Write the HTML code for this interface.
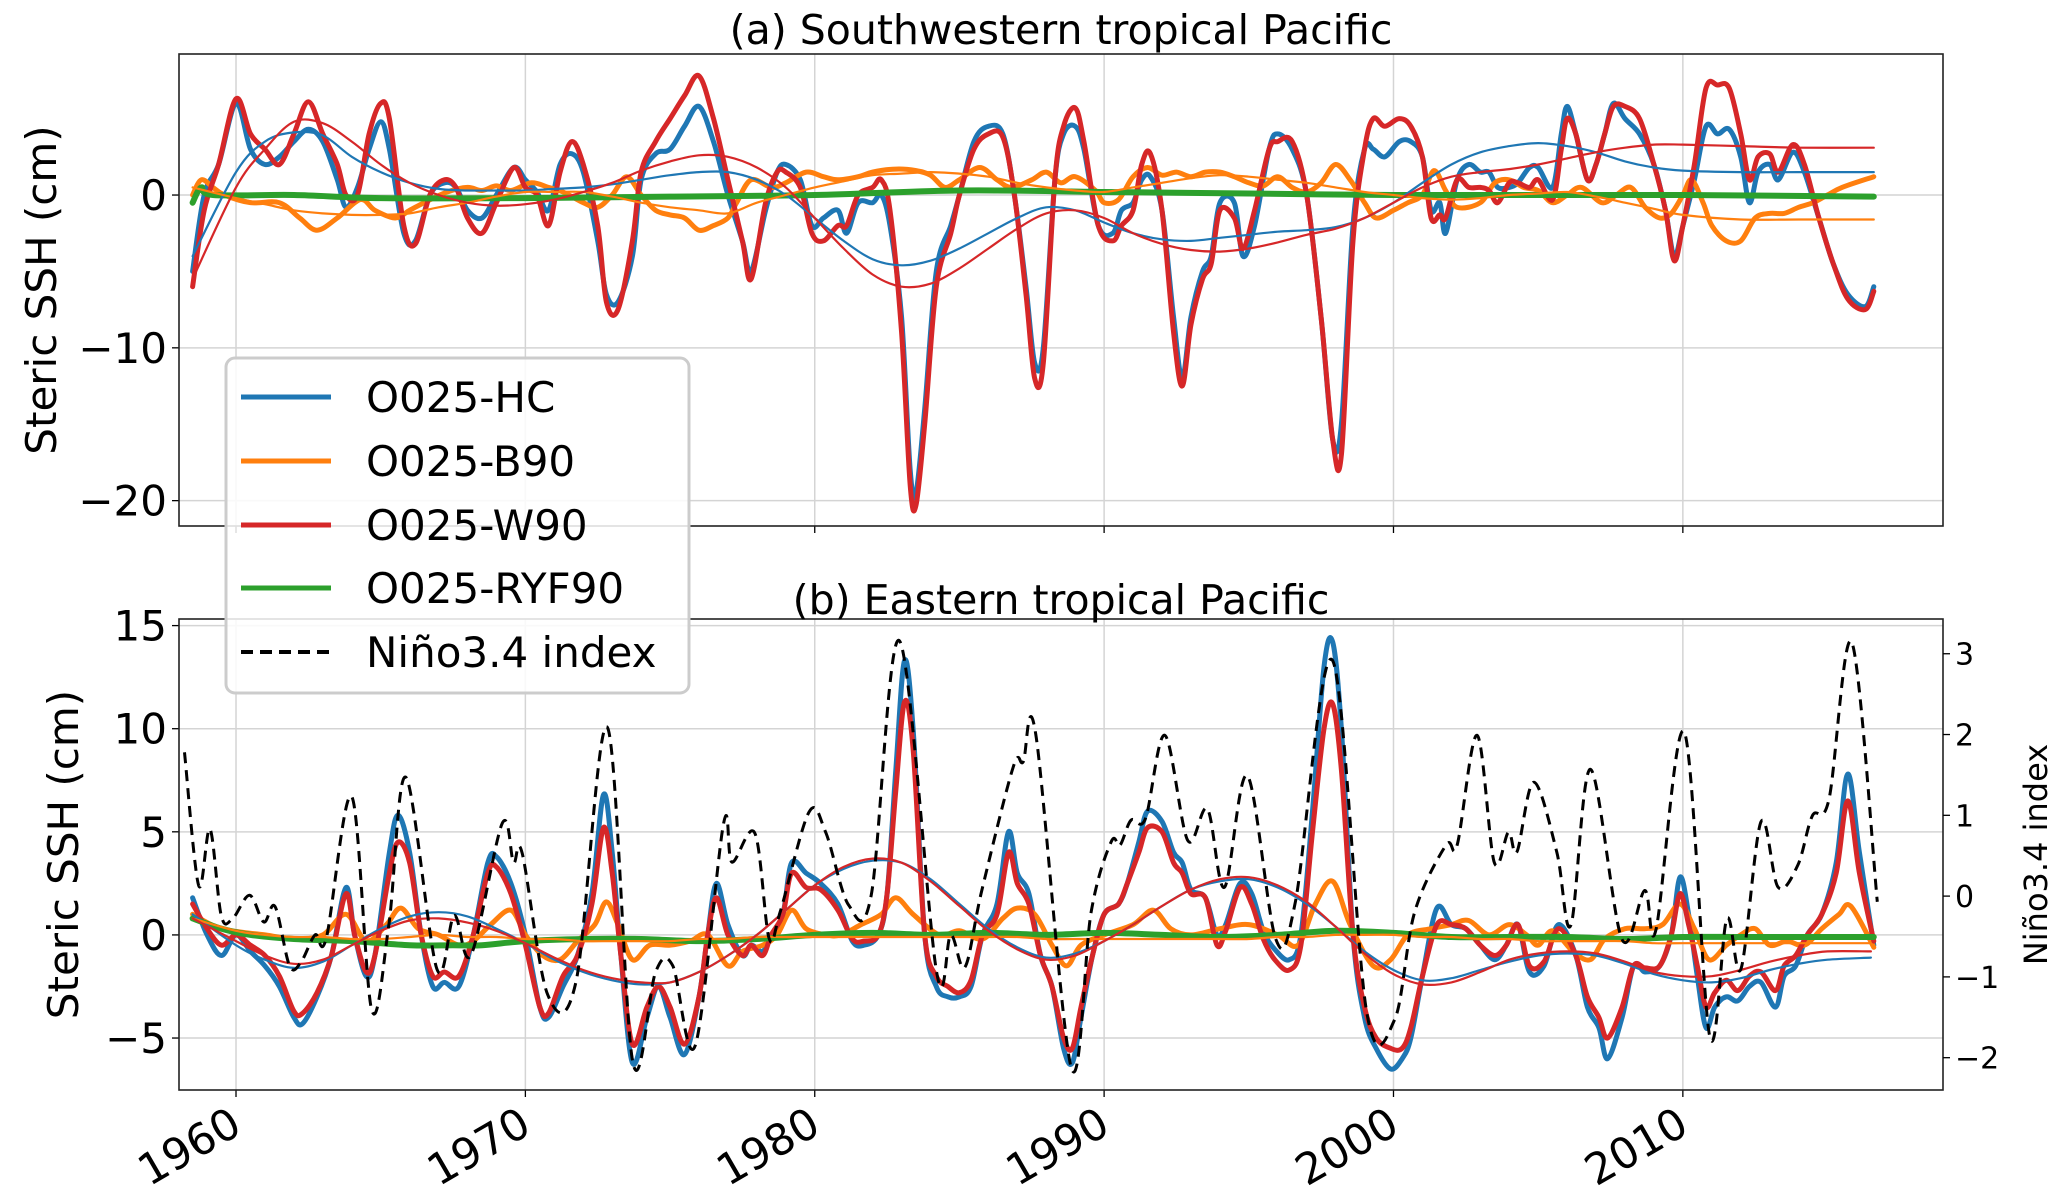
<!DOCTYPE html>
<html><head><meta charset="utf-8">
<style>
html,body{margin:0;padding:0;background:#fff;}
svg{display:block;font-family:"DejaVu Sans","Liberation Sans",sans-serif;}
</style></head>
<body>
<svg id="chart" width="2067" height="1193" viewBox="0 0 2067 1193" xmlns="http://www.w3.org/2000/svg">
<g id="panelA"></g>
<g id="panelB"></g>
<g id="legend"></g>
</svg>
<script>
// ---- shared x-axis ----
const xTicks = [1960, 1970, 1980, 1990, 2000, 2010];
const xTickLabels = ["1960", "1970", "1980", "1990", "2000", "2010"];

// ---- panel (a) data ----
const yTicksA = [-20, -10, 0];
const yTickLabelsA = ["\u221220", "\u221210", "0"];
const tA = [1958.5,1958.9,1959.4,1960,1960.5,1961,1961.5,1962,1962.5,1963,1963.5,1963.8,1964.2,1964.6,1965,1965.3,1965.8,1966.2,1966.7,1967.2,1967.6,1968,1968.5,1969,1969.6,1970,1970.4,1970.8,1971.2,1971.6,1972,1972.5,1972.8,1973.2,1973.7,1974,1974.5,1975,1975.5,1976,1976.5,1977,1977.5,1977.8,1978.3,1978.7,1979,1979.5,1979.9,1980.3,1980.8,1981.1,1981.5,1982,1982.3,1982.6,1983,1983.3,1983.5,1983.8,1984.2,1984.7,1985,1985.5,1986,1986.5,1986.9,1987.3,1987.6,1987.9,1988.3,1988.6,1989,1989.3,1989.8,1990.3,1990.6,1991,1991.3,1991.6,1992,1992.4,1992.7,1993,1993.4,1993.7,1994,1994.5,1994.8,1995.2,1995.7,1996,1996.5,1997,1997.5,1997.9,1998.2,1998.6,1999,1999.3,1999.7,2000.2,2000.6,2001,2001.3,2001.6,2001.8,2002.2,2002.6,2003,2003.3,2003.6,2004,2004.3,2004.7,2005,2005.5,2005.8,2006,2006.3,2006.7,2007,2007.3,2007.6,2008,2008.5,2009,2009.4,2009.7,2010,2010.4,2010.8,2011.2,2011.6,2012,2012.3,2012.6,2013,2013.3,2013.8,2014.2,2014.7,2015.2,2015.7,2016.3,2016.6];
const hcA = [-5,0,2,6,3,2,2.5,3.5,4.3,3.5,1,-0.8,0.5,3,4.8,3,-2.5,-3,0,0.8,0.5,-1,-1.5,0,1.8,1,0.2,-1,2,2.7,1.5,-3,-6.5,-7,-4,1,2.7,3,4.5,5.8,3.5,0,-3,-5,-1,1.5,2,1,-2,-1.5,-1,-2.5,-0.5,-0.5,0,-2,-8,-18,-19.5,-14,-5,-2,0,3.5,4.5,4,0,-6,-11,-10,1,4,4.5,3,-2,-2.5,-1,-0.5,1,1.2,-1,-8,-12,-8,-5,-4,-0.5,-0.5,-4,-2,3,4,3,0,-8,-16,-15,-2,3,3,2.5,3.5,3.5,2.5,-1,-0.5,-2.5,1,2,1.5,1.5,0.5,0.5,0.8,1.8,1.8,0.5,4,5.8,4,1,2,4,6,5,4,2,-1,-4,-2,1,4.5,4,4.3,2.5,-0.5,1.5,2,1,2.8,1.5,-1.5,-4.5,-6.5,-7.3,-6];
const w90A = [-6,-1,2,6.3,4,3,2,4,6.1,4,2,0,0,4,6,5,-2,-3.2,0,1,0.5,-1.5,-2.5,-0.5,1.8,0.5,0,-2,1.5,3.5,2,-2,-7,-7.5,-3,1.5,3.5,5,6.5,7.8,5,1,-3,-5.5,-0.5,1.5,1.5,0.5,-2.5,-3,-2,-2,0,0.5,1,-1,-9,-19,-20.3,-15,-6,-2.5,0,3,4,3.8,0,-6.5,-12,-11,1,4.5,5.7,3.5,-2,-3,-2,-1,2,2.7,-1,-9,-12.5,-8.5,-5.5,-4.5,-1,-1.5,-3.5,-1,3,3.5,3.5,0,-8,-16,-17,-3,3,5,4.5,5,4.5,2.5,-1.5,-1.3,-1.5,1,0.5,0.5,0.3,-0.5,0.8,0.8,0.5,1,-0.3,3,5,4,1,2,4,5.8,5.8,5,2,-1,-4.3,-2,2,7,7.2,7,4,1,2.5,2.7,1.5,3.3,2,-1.5,-4.5,-6.8,-7.5,-6.3];
const tB90A = [1958.5,1958.8,1959.2,1959.6,1960.5,1961.5,1962.2,1962.8,1963.5,1964.3,1964.8,1965.5,1966,1966.5,1967.3,1968,1968.5,1969,1969.5,1970.2,1970.8,1971.3,1972,1972.5,1973,1973.5,1974,1974.5,1975,1975.5,1976,1976.5,1977,1977.3,1977.8,1978.5,1979,1979.7,1980.3,1980.8,1981.5,1982,1982.8,1983.5,1984,1984.5,1985,1985.7,1986.3,1986.8,1987.5,1988,1988.5,1989,1989.7,1990,1990.5,1991,1991.5,1992,1992.5,1993,1993.5,1994,1994.5,1995,1995.5,1996,1996.5,1997,1997.5,1998,1998.5,1999,1999.4,2000,2000.5,2001,2001.4,2001.8,2002.2,2003,2003.5,2004,2004.5,2005,2005.5,2006,2006.5,2007.2,2007.7,2008.2,2008.7,2009.2,2009.6,2010,2010.3,2010.7,2011,2011.5,2012,2012.5,2013,2013.5,2014,2014.5,2015,2015.5,2016.6];
const b90A = [0,1,0.5,0,-0.5,-0.5,-1.5,-2.3,-1.5,-0.3,-1,-1.5,-1,-0.5,0.2,0.5,0.3,0.6,0.3,0.8,0.5,0.2,-0.5,-0.8,0,1.2,0,-1,-1.3,-1.5,-2.3,-2,-1.5,-0.5,1,0.5,0.8,1.5,1.2,1,1.2,1.5,1.7,1.6,1.3,0.5,1,1.8,1,0.5,1,1.5,0.8,1.2,0.3,-0.5,-0.3,1.2,1.8,1.3,1.5,1.2,1.5,1.5,1.2,0.8,0.6,1.2,0.5,0.2,0.8,2,1,-0.5,-1.5,-1,-0.5,0,1.6,0.3,-0.8,-0.5,0.8,1,0.5,0.3,-0.5,0,0.5,-0.5,0,0.5,-0.8,-1.5,-1.2,0,1,-0.5,-2,-3,-3,-1.5,-1.2,-1.2,-0.8,-0.5,0,0.5,1.2];
const tRyfA = [1958.5,1958.8,1959.2,1962,1965,1970,1975,1980,1985,1990,1995,2000,2005,2010,2016.6];
const ryfA = [-0.5,0.5,0,0,-0.2,-0.2,-0.1,0,0.3,0.2,0.1,0,0,0,-0.1];
const tTrendA = [1958.5,1960,1961,1962,1963,1964,1965,1966,1967,1968,1969,1970,1971,1972,1973,1974,1975,1976,1977,1978,1979,1980,1981,1982,1983,1984,1985,1986,1987,1988,1989,1990,1991,1992,1993,1994,1995,1996,1997,1998,1999,2000,2001,2002,2003,2004,2005,2006,2007,2008,2009,2010,2012,2014,2016.6];
const hcTrendA = [-4,1.5,3.5,4.1,3.9,2.5,1.5,0.8,0.4,0.3,0.3,0.3,0.4,0.5,0.7,1,1.3,1.5,1.5,1,0,-1.5,-3,-4.2,-4.6,-4.3,-3.5,-2.5,-1.5,-0.8,-1,-1.8,-2.5,-2.9,-3,-2.8,-2.6,-2.4,-2.3,-2.1,-1.5,-0.5,0.8,2,2.8,3.2,3.4,3.2,2.8,2.2,1.8,1.6,1.5,1.5,1.5];
const w90TrendA = [-5.5,0.5,3,4.8,4.7,3.5,2,0.8,0,-0.5,-0.7,-0.6,-0.3,0.2,0.8,1.6,2.2,2.6,2.5,1.8,0.5,-1.5,-3.5,-5.2,-6,-5.8,-4.8,-3.5,-2.2,-1.2,-1,-1.5,-2.5,-3.2,-3.6,-3.7,-3.5,-3.1,-2.6,-2.2,-1.5,-0.5,0.5,1.2,1.5,1.7,2,2.4,2.8,3.1,3.3,3.3,3.2,3.1,3.1];
const b90TrendA = [0.5,-0.2,-0.6,-1,-1.2,-1.3,-1.3,-1.2,-0.8,-0.5,-0.1,0.2,0.2,0.2,-0.1,-0.5,-0.8,-1,-1.2,-0.5,0,0.5,0.9,1.3,1.4,1.5,1.4,1.2,0.8,0.5,0.3,0.2,0.5,0.8,1.1,1.3,1.2,1,0.8,0.5,0.2,0,-0.2,-0.3,-0.2,0,0.1,0.2,-0.1,-0.5,-0.9,-1.3,-1.6,-1.6,-1.6];

// ---- panel (b) data ----
const yTicksB = [-5, 0, 5, 10, 15];
const yTickLabelsB = ["\u22125", "0", "5", "10", "15"];
const yTicksR = [-2, -1, 0, 1, 2, 3];
const yTickLabelsR = ["\u22122", "\u22121", "0", "1", "2", "3"];
const tB = [1958.5,1959,1959.5,1960,1960.5,1961,1961.5,1962,1962.3,1962.8,1963.3,1963.8,1964.1,1964.5,1964.8,1965.3,1965.6,1966,1966.4,1966.8,1967.2,1967.7,1968.2,1968.7,1969,1969.5,1970,1970.5,1970.8,1971.3,1971.8,1972.3,1972.7,1973,1973.3,1973.7,1974.2,1974.6,1975,1975.5,1976,1976.3,1976.6,1977,1977.5,1977.8,1978.2,1978.5,1978.9,1979.2,1979.7,1980.2,1980.8,1981.3,1981.7,1982.2,1982.5,1982.8,1983.1,1983.4,1983.8,1984.2,1984.6,1985,1985.4,1985.8,1986.3,1986.7,1987,1987.4,1987.8,1988.2,1988.6,1988.9,1989.2,1989.6,1990,1990.5,1990.8,1991.2,1991.5,1992,1992.4,1992.7,1993,1993.5,1993.9,1994.2,1994.7,1995.1,1995.5,1995.9,1996.4,1996.8,1997.2,1997.6,1997.9,1998.2,1998.6,1999,1999.4,1999.9,2000.3,2000.6,2001,2001.5,2002,2002.5,2003,2003.5,2003.9,2004.3,2004.7,2005.2,2005.7,2006.3,2006.7,2007.1,2007.4,2007.9,2008.3,2008.7,2009.2,2009.6,2009.9,2010.2,2010.5,2010.8,2011.1,2011.5,2011.9,2012.3,2012.7,2013.2,2013.5,2013.9,2014.3,2014.8,2015.3,2015.7,2016.1,2016.6];
const hcB = [1.8,0,-1,0,-0.8,-1.5,-2.5,-4,-4.3,-3,-1,2.3,0,-2,-1,4,5.8,4,0,-2.5,-2.3,-2.5,0,3.5,3.8,2.5,0,-3.5,-4,-2.5,-1,2,6.8,4,-1,-6.2,-4,-2.5,-4,-5.8,-3,0,2.5,0.5,-1,-0.5,-0.8,0,1,3.5,3,2.5,1.5,-0.3,-0.5,0,2,8,13.3,10,0,-2.5,-3,-3,-2.5,0,1.5,5,3,2,-1,-2.5,-5.5,-6.2,-4,-1,1,1.5,2.5,4.5,6,5.5,4,3.5,2.2,1.8,0,0.5,2.5,2,0.2,-0.7,-1.2,0,6,13,14.2,10,0,-4,-5.5,-6.5,-6,-5,-2,1.3,0.5,0.3,-0.5,-1.2,-0.5,0.5,-1.8,-1.5,0.5,-1,-3.5,-4.5,-6,-4,-1.5,-1.8,-1.5,0,2.8,1,-2,-4.5,-3.5,-3,-3.2,-2.5,-2.3,-3.5,-2,-1.5,0,1,3.5,7.8,4,-0.5];
const w90B = [1.5,0.3,-0.5,0,-0.5,-1,-2,-3.7,-3.8,-2.8,-1,2,0,-1.8,-1,3,4.5,3.5,0,-2,-1.8,-2,0,3,3.3,2,-0.5,-3.5,-3.8,-2,-1,1.5,5.2,3,-1,-5.3,-3.5,-2.5,-3.5,-5.3,-3,0,1.8,0,-1,-0.5,-1,0,1,3,2.3,2.2,1.2,-0.2,-0.3,0,2,7,11.3,9,0,-2,-2.5,-2.8,-2.2,0,1,4,2.5,1.5,-1,-2.5,-5,-5.5,-3.5,-1,1,1.5,2.5,4,5.2,5,3.5,3,2,1.8,-0.5,0.2,2.3,1.5,-0.2,-1.2,-1.7,-0.5,5,10,11.2,8,0,-3.5,-5,-5.5,-5.5,-4.5,-2,0.5,0.5,0.3,-0.5,-1,-0.5,0.5,-1.5,-1.3,0.3,-1,-3,-4,-5,-3.5,-1.5,-1.6,-1.5,0,2,0.5,-1.5,-3.5,-2.8,-2.2,-2.7,-2,-1.8,-2.7,-1.5,-1,0,1,3,6.5,3,-0.3];
const tB90B = [1958.5,1959.5,1961,1962,1963,1963.8,1964.5,1965.2,1965.7,1966.3,1967,1967.7,1968.2,1968.8,1969.5,1970,1970.6,1971.2,1971.8,1972.4,1972.8,1973.2,1973.7,1974.3,1975,1975.7,1976.3,1977,1977.5,1978.2,1978.7,1979.2,1979.7,1980.4,1980.9,1981.6,1982.3,1982.8,1983.4,1984.3,1985,1985.8,1986.5,1987,1987.6,1988.2,1988.7,1989.2,1990,1991,1991.7,1992.3,1993,1994,1995,1996,1996.7,1997.3,1997.9,1998.5,1999.3,1999.9,2000.5,2001.3,2002,2002.6,2003.3,2004,2004.6,2005,2005.5,2006.2,2006.8,2007.3,2008,2008.7,2009.3,2009.9,2010.4,2010.9,2011.5,2012,2012.5,2013,2013.6,2014.2,2014.8,2015.4,2015.8,2016.6];
const b90B = [1,0.3,0,-0.2,0,1,-0.3,0.5,1.3,0.3,0,-0.5,-0.3,0.5,1.2,0,-1,-1.2,-0.3,0.5,1.6,0.5,-1.2,-0.5,-0.5,-0.3,0,-1.5,-0.8,-0.5,0,1.2,0.3,0,0,0.5,1,1.8,1,0,0.2,-0.2,0.8,1.3,1,-0.5,-1.5,-0.5,0,0.5,1.2,0.3,0,0.3,0.5,0,-0.5,1.5,2.6,0.5,-1.5,-1.2,0,0.3,0.5,0.7,0,0.5,0,-0.5,0.2,-0.8,-1.2,-0.2,0.3,0.3,0.5,1.5,0.3,-1.2,-0.5,0,0.3,-0.5,-0.3,-0.5,0.3,1,1.4,-0.6];
const tRyfB = [1958.5,1959.5,1960.5,1962,1964,1966,1967.5,1968.5,1970,1972,1974,1976,1978,1980,1982,1984,1986,1988,1990,1992,1994,1996,1998,2000,2002,2004,2006,2008,2010,2012,2014,2016.6];
const ryfB = [0.8,0.3,0,-0.2,-0.3,-0.5,-0.5,-0.5,-0.3,-0.2,-0.2,-0.3,-0.2,0,0.1,0,0.1,0,0.1,0,-0.1,0,0.2,0.1,-0.1,-0.1,-0.1,-0.2,-0.1,-0.1,-0.1,-0.1];
const tTrendB = [1958.5,1960,1961,1962,1963,1964,1965,1966,1967,1968,1969,1970,1971,1972,1973,1974,1975,1976,1977,1978,1979,1980,1981,1982,1983,1984,1985,1986,1987,1988,1989,1990,1991,1992,1993,1994,1995,1996,1997,1998,1999,2000,2001,2002,2003,2004,2005,2006,2007,2008,2009,2010,2011,2012,2013,2014,2015,2016.5];
const hcTrendB = [1,-0.5,-1.2,-1.6,-1.3,-0.5,0.3,0.9,1.1,0.9,0.3,-0.4,-1.2,-1.8,-2.2,-2.4,-2.3,-1.8,-1,0,1.2,2.4,3.2,3.6,3.5,2.7,1.5,0.3,-0.6,-1.1,-0.9,-0.3,0.5,1.4,2.2,2.6,2.7,2.3,1.5,0.4,-0.8,-1.7,-2.2,-2.1,-1.7,-1.3,-1,-0.9,-1,-1.4,-1.9,-2.2,-2.3,-2.1,-1.7,-1.4,-1.2,-1.1];
const w90TrendB = [0.8,-0.3,-1,-1.4,-1.2,-0.5,0.2,0.7,0.8,0.6,0.2,-0.4,-1.1,-1.7,-2.1,-2.3,-2.3,-1.8,-1,0,1.2,2.4,3.3,3.7,3.5,2.6,1.4,0.2,-0.7,-1.2,-1,-0.3,0.5,1.4,2.2,2.7,2.8,2.4,1.6,0.4,-0.9,-1.9,-2.4,-2.3,-1.8,-1.2,-0.9,-0.8,-0.9,-1.3,-1.8,-2,-2,-1.7,-1.3,-1,-0.8,-0.8];
const b90TrendB = [0.8,0.2,0,-0.1,-0.1,-0.2,-0.2,-0.1,0,-0.1,-0.1,-0.2,-0.2,-0.3,-0.3,-0.3,-0.3,-0.2,-0.2,-0.1,-0.1,-0.1,-0.1,-0.1,-0.1,-0.1,-0.1,-0.1,-0.1,-0.2,-0.2,-0.2,-0.2,-0.2,-0.2,-0.2,-0.2,-0.1,-0.1,0,0,0,-0.1,-0.1,-0.2,-0.2,-0.3,-0.3,-0.3,-0.3,-0.4,-0.4,-0.4,-0.4,-0.4,-0.4,-0.4,-0.4];
const tNino = [1958.22,1958.71,1959.1,1959.49,1959.88,1960.47,1960.96,1961.35,1961.85,1962.24,1962.73,1963.12,1964.0,1964.69,1965.28,1965.87,1966.94,1967.54,1968.12,1969.2,1969.59,1969.89,1970.77,1971.75,1972.83,1973.71,1974.5,1975.09,1975.87,1976.85,1977.14,1977.93,1978.42,1978.81,1979.8,1980.38,1981.17,1981.95,1982.93,1984.21,1984.7,1985.19,1985.78,1986.86,1987.2,1987.64,1988.87,1989.55,1990.24,1990.55,1990.93,1991.43,1992.1,1992.89,1993.57,1994.16,1994.95,1995.93,1996.61,1997.89,1999.07,2000.04,2000.73,2001.81,2002.2,2002.89,2003.48,2003.97,2004.27,2004.85,2005.64,2006.13,2006.81,2007.89,2008.68,2009.07,2010.05,2010.93,2011.52,2012.01,2012.7,2013.29,2013.97,2014.47,2015.05,2015.84,2016.72];
const nino = [1.78,0.13,0.83,-0.24,-0.28,0.01,-0.32,-0.13,-0.86,-0.82,-0.48,-0.52,1.23,-1.41,-0.36,1.47,-0.9,-0.24,-0.73,0.9,0.42,0.53,-1.22,-1.06,2.09,-2.05,-0.94,-0.86,-1.85,0.9,0.42,0.78,-0.52,-0.19,1.04,0.79,-0.11,0.01,3.16,-0.94,-0.48,-0.88,0.08,1.6,1.66,2.0,-2.13,-0.2,0.67,0.63,0.94,0.96,1.99,0.69,1.08,0.11,1.49,-0.53,-0.07,2.92,-1.43,-1.53,-0.2,0.63,0.63,1.99,0.42,0.79,0.55,1.41,0.55,-0.36,1.57,-0.53,0.07,-0.42,2.03,-1.74,-0.28,-0.9,0.92,0.11,0.38,0.99,1.2,3.14,-0.07];

// ---- layout ----
const NS = "http://www.w3.org/2000/svg";
const L = 179, R = 1943;
const X0 = 1958.03, X1 = 2018.99;
function xs(v){ return L + (v - X0) / (X1 - X0) * (R - L); }
const A = {top:54, bottom:526, y0:-21.66, y1:9.23};
const B = {top:619, bottom:1090, y0:-7.52, y1:15.32};
const BR = {y0:-2.4, y1:3.43};
function ysA(v){ return A.bottom - (v - A.y0) / (A.y1 - A.y0) * (A.bottom - A.top); }
function ysB(v){ return B.bottom - (v - B.y0) / (B.y1 - B.y0) * (B.bottom - B.top); }
function ysR(v){ return B.bottom - (v - BR.y0) / (BR.y1 - BR.y0) * (B.bottom - B.top); }
const C = {hc:"#1f77b4", b90:"#ff7f0e", w90:"#d62728", ryf:"#2ca02c"};

function mk(tag, attrs, parent){
  const e = document.createElementNS(NS, tag);
  for (const k in attrs) e.setAttribute(k, attrs[k]);
  parent.appendChild(e);
  return e;
}
function smoothPath(ts, vs, ysf){
  const p = ts.map((t,i)=>[xs(t), ysf(vs[i])]);
  let d = "M" + p[0][0].toFixed(1) + "," + p[0][1].toFixed(1);
  for (let i=0;i<p.length-1;i++){
    const p0 = p[Math.max(0,i-1)], p1 = p[i], p2 = p[i+1], p3 = p[Math.min(p.length-1,i+2)];
    const c1 = [p1[0]+(p2[0]-p0[0])/6, p1[1]+(p2[1]-p0[1])/6];
    const c2 = [p2[0]-(p3[0]-p1[0])/6, p2[1]-(p3[1]-p1[1])/6];
    d += " C"+c1[0].toFixed(1)+","+c1[1].toFixed(1)+" "+c2[0].toFixed(1)+","+c2[1].toFixed(1)+" "+p2[0].toFixed(1)+","+p2[1].toFixed(1);
  }
  return d;
}
function series(parent, ts, vs, ysf, color, w, name, dash){
  const a = {d:smoothPath(ts, vs, ysf), fill:"none", stroke:color, "stroke-width":w, "stroke-linejoin":"round", "stroke-linecap":"round"};
  if (dash){ a["stroke-dasharray"] = dash; a["stroke-linecap"] = "butt"; }
  const e = mk("path", a, parent);
  
  
  return e;
}

function panel(g, P, ysf, yTicks, yLabels, showXLabels){
  const clipId = "clip" + P.top;
  const cp = mk("clipPath", {id:clipId}, g);
  mk("rect", {x:L, y:P.top, width:R-L, height:P.bottom-P.top}, cp);
  const grid = mk("g", {}, g);
  
  
  xTicks.forEach(t=>{
    const ln = mk("line", {x1:xs(t), x2:xs(t), y1:P.top, y2:P.bottom, stroke:"#d4d4d4", "stroke-width":1.5}, grid);
    
    
  });
  yTicks.forEach(v=>{
    const ln = mk("line", {x1:L, x2:R, y1:ysf(v), y2:ysf(v), stroke:"#d4d4d4", "stroke-width":1.5}, grid);
    
    
  });
  const plot = mk("g", {"clip-path":"url(#"+clipId+")"}, g);
  
  
  yTicks.forEach((v,i)=>{
    mk("line", {x1:L-7, x2:L, y1:ysf(v), y2:ysf(v), stroke:"#000", "stroke-width":1.3}, g);
    const tx = mk("text", {x:L-12, y:ysf(v)+15, "text-anchor":"end", "font-size":42, fill:"#000"}, g);
    tx.textContent = yLabels[i];
    
    
  });
  xTicks.forEach((t,i)=>{
    mk("line", {x1:xs(t), x2:xs(t), y1:P.bottom, y2:P.bottom+7, stroke:"#000", "stroke-width":1.3}, g);
    if (showXLabels){
      const tx = mk("text", {transform:"translate("+(xs(t)+8)+","+(P.bottom+42)+") rotate(-30)", "text-anchor":"end", "font-size":43, fill:"#000"}, g);
      tx.textContent = xTickLabels[i];
      
      
    }
  });
  return plot;
}
function frame(g, P){
  const f = mk("rect", {x:L, y:P.top, width:R-L, height:P.bottom-P.top, fill:"none", stroke:"#222", "stroke-width":1.6}, g);
  
  
}

// ---- panel A ----
const gA = document.getElementById("panelA");
const pA = panel(gA, A, ysA, yTicksA, yTickLabelsA, false);
series(pA, tA, hcA, ysA, C.hc, 5, "hc-line-a");
series(pA, tB90A, b90A, ysA, C.b90, 5, "b90-line-a");
series(pA, tA, w90A, ysA, C.w90, 5, "w90-line-a");
series(pA, tRyfA, ryfA, ysA, C.ryf, 6, "ryf90-line-a");
series(pA, tTrendA, hcTrendA, ysA, C.hc, 2.2, "hc-trend-a");
series(pA, tTrendA, b90TrendA, ysA, C.b90, 2.2, "b90-trend-a");
series(pA, tTrendA, w90TrendA, ysA, C.w90, 2.2, "w90-trend-a");
frame(gA, A);
const titleA = mk("text", {x:(L+R)/2, y:44, "text-anchor":"middle", "font-size":41, fill:"#000"}, gA);
titleA.textContent = "(a) Southwestern tropical Pacific";


const ylA = mk("text", {transform:"translate(56,"+((A.top+A.bottom)/2)+") rotate(-90)", "text-anchor":"middle", "font-size":42, fill:"#000"}, gA);
ylA.textContent = "Steric SSH (cm)";



// ---- panel B ----
const gB = document.getElementById("panelB");
const pB = panel(gB, B, ysB, yTicksB, yTickLabelsB, true);
series(pB, tB, hcB, ysB, C.hc, 5, "hc-line-b");
series(pB, tB90B, b90B, ysB, C.b90, 5, "b90-line-b");
series(pB, tB, w90B, ysB, C.w90, 5, "w90-line-b");
series(pB, tRyfB, ryfB, ysB, C.ryf, 6, "ryf90-line-b");
series(pB, tTrendB, hcTrendB, ysB, C.hc, 2.2, "hc-trend-b");
series(pB, tTrendB, b90TrendB, ysB, C.b90, 2.2, "b90-trend-b");
series(pB, tTrendB, w90TrendB, ysB, C.w90, 2.2, "w90-trend-b");
series(pB, tNino, nino, ysR, "#000", 3, "nino34-line", "11,7");
frame(gB, B);
yTicksR.forEach((v,i)=>{
  mk("line", {x1:R, x2:R+7, y1:ysR(v), y2:ysR(v), stroke:"#000", "stroke-width":1.3}, gB);
  const tx = mk("text", {x:R+12, y:ysR(v)+11, "text-anchor":"start", "font-size":30, fill:"#000"}, gB);
  tx.textContent = yTickLabelsR[i];
  
  
});
const titleB = mk("text", {x:(L+R)/2, y:614, "text-anchor":"middle", "font-size":41, fill:"#000"}, gB);
titleB.textContent = "(b) Eastern tropical Pacific";


const ylB = mk("text", {transform:"translate(78,"+((B.top+B.bottom)/2)+") rotate(-90)", "text-anchor":"middle", "font-size":42, fill:"#000"}, gB);
ylB.textContent = "Steric SSH (cm)";


const ylR = mk("text", {transform:"translate(2047,"+((B.top+B.bottom)/2)+") rotate(-90)", "text-anchor":"middle", "font-size":32, fill:"#000"}, gB);
ylR.textContent = "Niño3.4 index";



// ---- legend ----
const gL = document.getElementById("legend");
const lbox = mk("rect", {x:226, y:358, width:463, height:335, rx:9, fill:"rgba(255,255,255,0.85)", stroke:"#cccccc", "stroke-width":3}, gL);


const legNames = ["O025-HC", "O025-B90", "O025-W90", "O025-RYF90", "Niño3.4 index"];
const legColors = [C.hc, C.b90, C.w90, C.ryf, "#000"];
const legY = [397, 461, 525, 588, 652];
legNames.forEach((n,i)=>{
  const eg = mk("g", {}, gL);
  
  
  const la = {x1:241, x2:331, y1:legY[i], y2:legY[i], stroke:legColors[i], "stroke-width":5};
  if (i === 4){ la["stroke-dasharray"] = "12,7"; la["stroke-width"] = 4; }
  mk("line", la, eg);
  const tx = mk("text", {x:366, y:legY[i]+15, "font-size":42, fill:"#000"}, eg);
  tx.textContent = n;
});
</script>
</body></html>
